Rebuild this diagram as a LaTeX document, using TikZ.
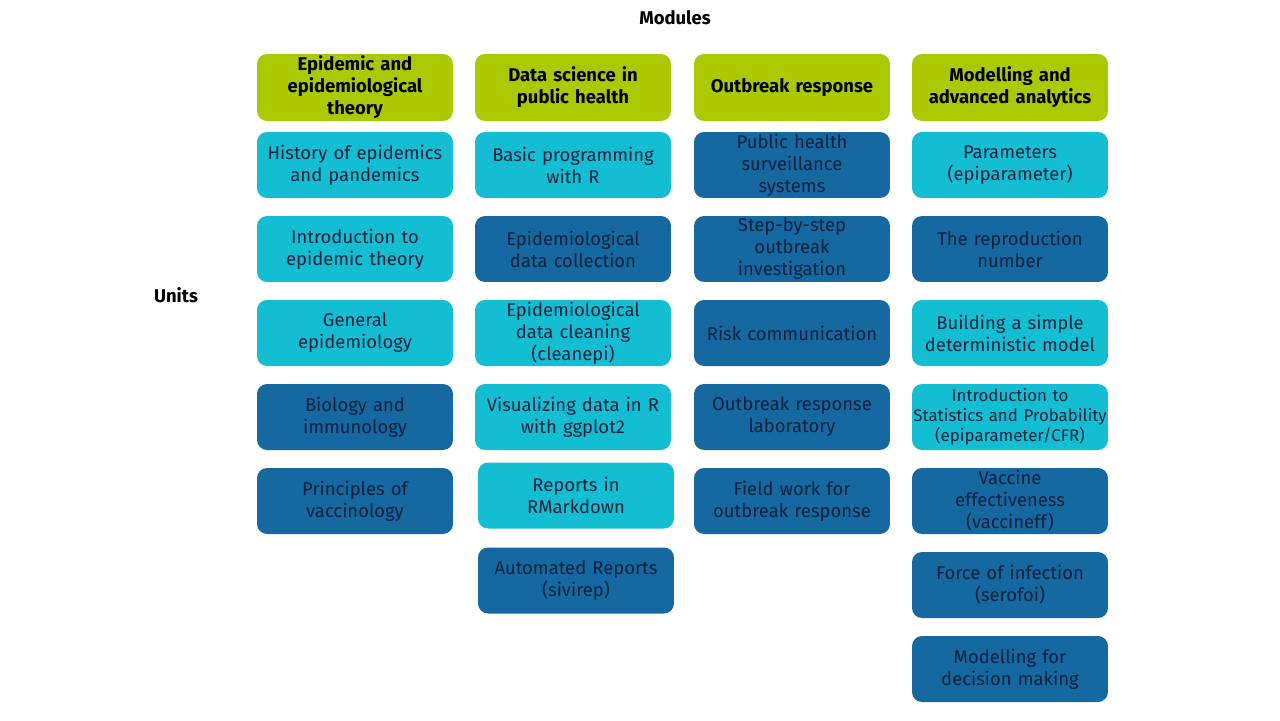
\documentclass[tikz,border=0pt]{standalone}
\usepackage{fontspec}
\setmainfont{Fira Sans}
\definecolor{modgreen}{HTML}{ABC800}
\definecolor{unitlight}{HTML}{14BED2}
\definecolor{unitdark}{HTML}{1668A0}
\definecolor{unittext}{HTML}{0A2240}

\begin{document}
\begin{tikzpicture}[x=0.02cm,y=-0.02cm
    , unit/.style = {rectangle,rounded corners=2mm,minimum width=3.92cm,minimum height=1.32cm,
                     text width=3.92cm,align=center,inner sep=0mm,outer sep=0mm,text=unittext,
                     font=\fontsize{10.5}{12.5}\selectfont}
    , module/.style = {unit,fill=modgreen,minimum height=1.34cm,text=black,
                     font=\fontsize{10.5}{12.5}\selectfont\bfseries}
    , label/.style = {font=\fontsize{10.5}{12.5}\selectfont\bfseries}
    , small/.style = {font=\fontsize{9.6}{11.5}\selectfont}
]
\useasboundingbox (0,0) rectangle (1280,720);
\node[label] (modules) at (675,18) {Modules};
\node[label] (units) at (176,295) {Units};
% module headers
\node[module] (m1) at (355,87.5) {Epidemic and\\epidemiological\\theory};
\node[module] (m2) at (573,87.5) {Data science in\\public health};
\node[module] (m3) at (792,87.5) {Outbreak response};
\node[module] (m4) at (1010,87.5) {Modelling and\\advanced analytics};
% units per module
\foreach \c/\t [count=\j] in {unitlight/{History of epidemics\\and pandemics},
        unitlight/{Introduction to\\epidemic theory},
        unitlight/{General\\epidemiology},
        unitdark/{Biology and\\immunology},
        unitdark/{Principles of\\vaccinology}}
    \node[unit,fill=\c] (a\j) at (355,81+84*\j) {\t};
\foreach \c/\t [count=\j] in {unitlight/{Basic programming\\with R},
        unitdark/{Epidemiological\\data collection},
        unitlight/{Epidemiological\\data cleaning\\(cleanepi)},
        unitlight/{Visualizing data in R\\with ggplot2}}
    \node[unit,fill=\c] (b\j) at (573,81+84*\j) {\t};
\node[unit,fill=unitlight] (b5) at (576,495.5) {Reports in\\RMarkdown};
\node[unit,fill=unitdark] (b6) at (576,580.5) {Automated Reports\\(sivirep)};
\foreach \c/\t [count=\j] in {unitdark/{Public health\\surveillance\\systems},
        unitdark/{Step-by-step\\outbreak\\investigation},
        unitdark/{Risk communication},
        unitdark/{Outbreak response\\laboratory},
        unitdark/{Field work for\\outbreak response}}
    \node[unit,fill=\c] (c\j) at (792,81+84*\j) {\t};
\foreach \c/\t [count=\j] in {unitlight/{Parameters\\(epiparameter)},
        unitdark/{The reproduction\\number},
        unitlight/{Building a simple\\deterministic model}}
    \node[unit,fill=\c] (d\j) at (1010,81+84*\j) {\t};
\node[unit,small,fill=unitlight] (d4) at (1010,417) {Introduction to\\Statistics and Probability\\(epiparameter/CFR)};
\foreach \c/\t [count=\j from 5] in {unitdark/{Vaccine\\effectiveness\\(vaccineff)},
        unitdark/{Force of infection\\(serofoi)},
        unitdark/{Modelling for\\decision making}}
    \node[unit,fill=\c] (d\j) at (1010,81+84*\j) {\t};
\end{tikzpicture}
\end{document}
